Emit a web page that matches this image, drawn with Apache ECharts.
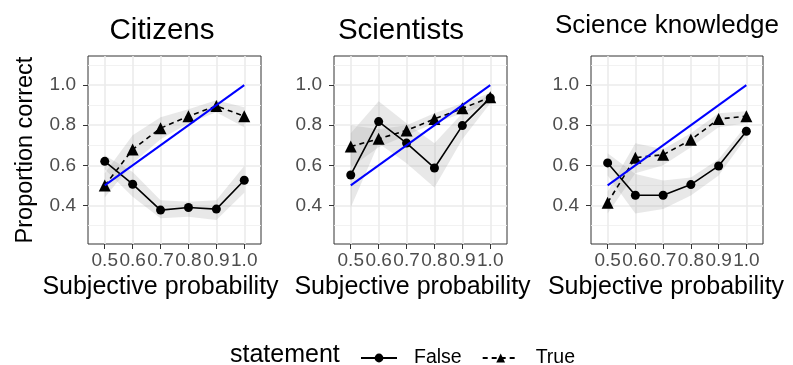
<!DOCTYPE html>
<html>
<head>
<meta charset="utf-8">
<script src="https://cdn.jsdelivr.net/npm/echarts@6/dist/echarts.min.js"></script>
<style>
html,body{margin:0;padding:0;background:#fff;}
#chart{width:793px;height:365px;}
</style>
</head>
<body>
<div id="chart"></div>
<script>
// ---- data ----
const panelTitles = ['Citizens', 'Scientists', 'Science knowledge'];
const xValues = [0.5, 0.6, 0.7, 0.8, 0.9, 1.0];
const xTickLabels = ['0.5', '0.6', '0.7', '0.8', '0.9', '1.0'];
const yTickValues = [0.4, 0.6, 0.8, 1.0];
const yMinorValues = [0.3, 0.5, 0.7, 0.9, 1.1];

// Citizens
const citizensFalse = [0.620, 0.506, 0.377, 0.390, 0.382, 0.526];
const citizensFalseLo = [0.58, 0.443, 0.336, 0.344, 0.327, 0.463];
const citizensFalseHi = [0.65, 0.567, 0.426, 0.418, 0.426, 0.597];
const citizensTrue = [0.499, 0.679, 0.785, 0.845, 0.896, 0.845];
const citizensTrueLo = [0.44, 0.61, 0.73, 0.81, 0.865, 0.79];
const citizensTrueHi = [0.56, 0.75, 0.84, 0.88, 0.925, 0.89];

// Scientists
const scientistsFalse = [0.552, 0.818, 0.711, 0.587, 0.798, 0.936];
const scientistsFalseLo = [0.39, 0.71, 0.61, 0.49, 0.73, 0.91];
const scientistsFalseHi = [0.76, 0.92, 0.81, 0.71, 0.86, 0.96];
const scientistsTrue = [0.694, 0.732, 0.774, 0.831, 0.884, 0.939];
const scientistsTrueLo = [0.59, 0.69, 0.75, 0.81, 0.86, 0.91];
const scientistsTrueHi = [0.80, 0.78, 0.80, 0.86, 0.91, 0.96];

// Science knowledge
const knowledgeFalse = [0.612, 0.451, 0.451, 0.504, 0.597, 0.770];
const knowledgeFalseLo = [0.55, 0.36, 0.383, 0.45, 0.55, 0.74];
const knowledgeFalseHi = [0.66, 0.557, 0.524, 0.54, 0.63, 0.80];
const knowledgeTrue = [0.414, 0.638, 0.653, 0.727, 0.831, 0.845];
const knowledgeTrueLo = [0.36, 0.56, 0.60, 0.69, 0.79, 0.81];
const knowledgeTrueHi = [0.47, 0.71, 0.68, 0.76, 0.86, 0.87];

const refLineX = [0.5, 1.0];
const refLineY = [0.5, 1.0];

const legendTitle = 'statement';
const xAxisTitle = 'Subjective probability';
const yAxisTitle = 'Proportion correct';

// ---- build ----
const panels = [
  {f: citizensFalse, fl: citizensFalseLo, fh: citizensFalseHi, t: citizensTrue, tl: citizensTrueLo, th: citizensTrueHi},
  {f: scientistsFalse, fl: scientistsFalseLo, fh: scientistsFalseHi, t: scientistsTrue, tl: scientistsTrueLo, th: scientistsTrueHi},
  {f: knowledgeFalse, fl: knowledgeFalseLo, fh: knowledgeFalseHi, t: knowledgeTrue, tl: knowledgeTrueLo, th: knowledgeTrueHi}
];

const FONT = '"Liberation Sans", Arial, Helvetica, sans-serif';
const gridLefts = [88, 334, 591];
const gridWidths = [173, 173, 172];
const titleCenters = [157, 396, 662];
const titleSizes = [29.5, 29.5, 26];
const titleTops = [11, 11, 8];
const xNameShift = [28, 16, 22];

const grids = [], xAxes = [], yAxes = [], series = [], titles = [];

function zip(xs, ys) { return xs.map((x, i) => [x, ys[i]]); }

function ribbon(gi, lo, hi) {
  return {
    type: 'custom', xAxisIndex: gi, yAxisIndex: gi * 2, silent: true, z: 1,
    data: xValues.map((x, i) => [x, lo[i], hi[i]]),
    encode: {x: 0, y: [1, 2]},
    renderItem: function (params, api) {
      if (params.dataIndex !== 0) return null;
      const pts = [];
      for (let i = 0; i < xValues.length; i++) pts.push(api.coord([xValues[i], hi[i]]));
      for (let i = xValues.length - 1; i >= 0; i--) pts.push(api.coord([xValues[i], lo[i]]));
      return {type: 'polygon', shape: {points: pts}, style: {fill: 'rgba(150,150,150,0.22)', stroke: null}};
    }
  };
}

panels.forEach((p, gi) => {
  grids.push({left: gridLefts[gi], top: 56, width: gridWidths[gi], height: 188, show: true,
    borderColor: '#333333', borderWidth: 1, backgroundColor: '#ffffff'});
  xAxes.push({
    type: 'value', gridIndex: gi, min: 0.44, max: 1.06,
    name: xAxisTitle, nameLocation: 'middle', nameGap: 31,
    nameTextStyle: {fontFamily: FONT, fontSize: 25, color: '#000', padding: [0, xNameShift[gi], 0, 0]},
    axisLine: {show: false},
    axisTick: {show: true, length: 5, lineStyle: {color: '#333', width: 1}, customValues: xValues},
    axisLabel: {show: true, customValues: xValues, margin: 7, fontFamily: FONT, fontSize: 19, color: '#4D4D4D',
      formatter: v => xTickLabels[xValues.findIndex(x => Math.abs(x - v) < 1e-6)]},
    splitLine: {show: true, lineStyle: {color: '#EBEBEB', width: 1.6}}
  });
  yAxes.push({
    type: 'value', gridIndex: gi, min: 0.208, max: 1.145, position: 'left',
    name: gi === 0 ? yAxisTitle : '', nameLocation: 'middle', nameGap: 50, nameRotate: 90,
    nameTextStyle: {fontFamily: FONT, fontSize: 23.5, color: '#000'},
    axisLine: {show: false},
    axisTick: {show: true, length: 5, lineStyle: {color: '#333', width: 1}, customValues: yTickValues},
    axisLabel: {show: true, customValues: yTickValues, margin: 12, fontFamily: FONT, fontSize: 19, color: '#4D4D4D',
      formatter: v => v.toFixed(1)},
    splitLine: {show: true, lineStyle: {color: '#EBEBEB', width: 1.6}}
  });
  yAxes.push({
    type: 'value', gridIndex: gi, min: 0.208, max: 1.145, position: 'left',
    axisLine: {show: false},
    axisTick: {show: false, customValues: yMinorValues},
    axisLabel: {show: false, customValues: yMinorValues},
    splitLine: {show: true, lineStyle: {color: '#F1F1F1', width: 0.9}}
  });
  titles.push({text: panelTitles[gi], left: titleCenters[gi], top: titleTops[gi], textAlign: 'center',
    textStyle: {fontFamily: FONT, fontSize: titleSizes[gi], fontWeight: 'normal', color: '#000'}});

  series.push(ribbon(gi, p.fl, p.fh));
  series.push(ribbon(gi, p.tl, p.th));
  series.push({
    name: 'False', type: 'line', xAxisIndex: gi, yAxisIndex: gi * 2, z: 3,
    data: zip(xValues, p.f), symbol: 'circle', symbolSize: 9,
    itemStyle: {color: '#000'}, lineStyle: {color: '#000', width: 1.6, type: 'solid'}, animation: false
  });
  series.push({
    name: 'True', type: 'line', xAxisIndex: gi, yAxisIndex: gi * 2, z: 3,
    data: zip(xValues, p.t), symbol: 'triangle', symbolSize: 12,
    itemStyle: {color: '#000'}, lineStyle: {color: '#000', width: 1.6, type: [5, 4]}, animation: false
  });
  series.push({
    name: 'ref', type: 'line', xAxisIndex: gi, yAxisIndex: gi * 2, z: 4,
    data: zip(refLineX, refLineY), symbol: 'none', silent: true,
    lineStyle: {color: '#0000FF', width: 2}, animation: false
  });
});

const chart = echarts.init(document.getElementById('chart'), null, {renderer: 'canvas'});
chart.setOption({
  animation: false,
  backgroundColor: '#ffffff',
  title: titles,
  grid: grids,
  xAxis: xAxes,
  yAxis: yAxes,
  legend: {
    data: ['False', 'True'], left: 355, top: 343, orient: 'horizontal',
    itemWidth: 36, itemHeight: 11, itemGap: 20,
    textStyle: {fontFamily: FONT, fontSize: 19.5, color: '#000', padding: [0, 0, 0, 12]}
  },
  graphic: [{
    type: 'text', left: 230, top: 343,
    style: {text: legendTitle, fontFamily: FONT, fontSize: 25, fill: '#000'}
  }],
  series: series
});
</script>
</body>
</html>
